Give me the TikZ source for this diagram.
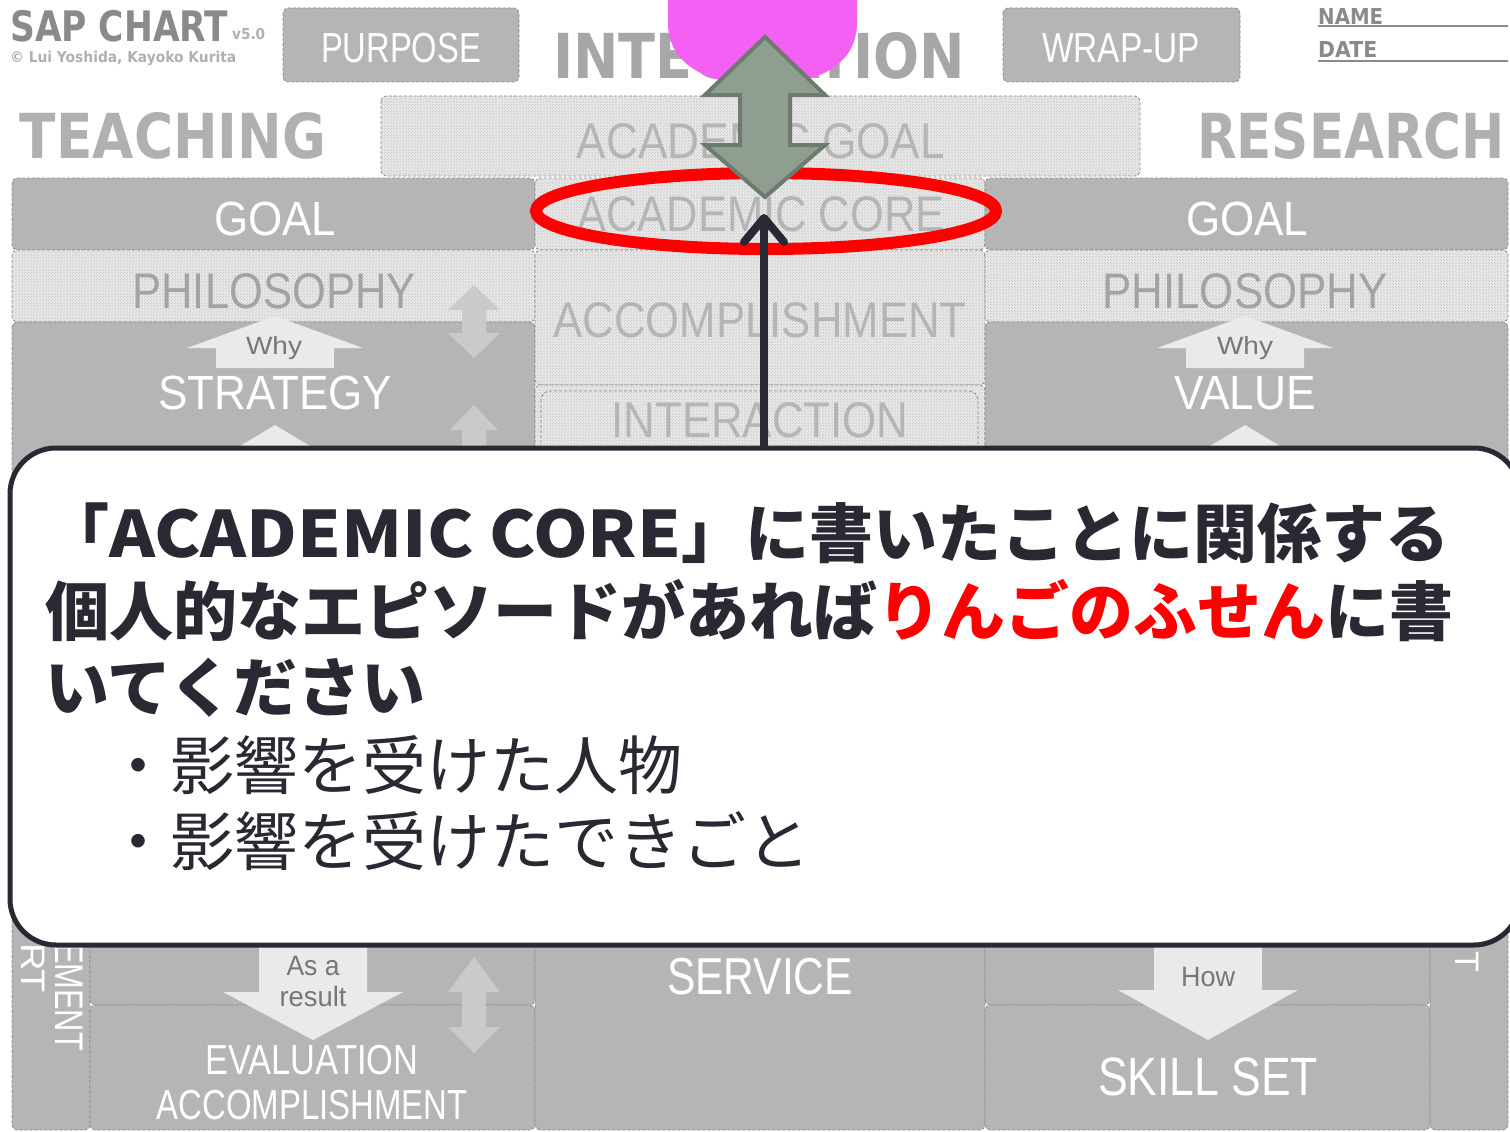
\documentclass[tikz,border=0pt]{standalone}
\usepackage{fontspec}
\setmainfont{Liberation Sans}
\newfontfamily\dvb{DejaVu Sans}
\newfontfamily\jp{Noto Sans CJK JP}
\usetikzlibrary{patterns,arrows.meta}
\definecolor{boxgray}{HTML}{B5B5B5}
\definecolor{dashc}{HTML}{8C8C8C}
\definecolor{hatchbg}{HTML}{E9E9E9}
\definecolor{hatchln}{HTML}{C6C6C6}
\definecolor{headgray}{HTML}{8A8A8A}
\definecolor{biggray}{HTML}{B0B0B0}
\definecolor{hatchtext}{HTML}{B5B5B5}
\definecolor{philtext}{HTML}{A3A3A3}
\definecolor{arrowlight}{HTML}{EAEAEA}
\definecolor{dblarrow}{HTML}{CACACA}
\definecolor{smalltext}{HTML}{777777}
\definecolor{ink}{HTML}{292933}
\definecolor{pinkblob}{HTML}{F45FF4}
\definecolor{arrgreen}{HTML}{8F9E90}
\definecolor{arrgreenb}{HTML}{6D7A6E}
\definecolor{redmark}{HTML}{FF0000}
\newcommand{\fw}[2]{\resizebox{#1}{\height}{#2}}
\newcommand{\fsz}[1]{\fontsize{#1}{#1}\selectfont}
\begin{document}
\begin{tikzpicture}[x=1pt,y=-1pt,
  panel/.style={draw=dashc, dash pattern=on 3pt off 2pt, line width=0.8pt, rounded corners=5pt, fill=boxgray},
  hatchpanel/.style={draw=dashc, dash pattern=on 3pt off 2pt, line width=0.8pt, rounded corners=5pt, preaction={fill=hatchbg}, pattern=north east lines, pattern color=hatchln},
  wlbl/.style={inner sep=0pt, text=white, font=\fsz{48}},
  hlbl/.style={inner sep=0pt, text=hatchtext, font=\fsz{50}},
  plbl/.style={inner sep=0pt, text=philtext, font=\fsz{50}},
  slbl/.style={inner sep=0pt, text=smalltext, font=\fsz{28}, anchor=base},
  bighead/.style={inner sep=0pt, text=biggray, font=\dvb\bfseries\fsz{62}},
  lightarrow/.style={fill=arrowlight},
  dblarr/.style={fill=dblarrow},
  jptext/.style={inner sep=0pt, anchor=base west, text=ink, font=\jp\fsz{64}}
]
\useasboundingbox (0,0) rectangle (1510,1132);
\fill[white] (0,0) rectangle (1510,1132);
\begin{scope}
\clip (0,0) rectangle (1510,1132);

% ---------- header ----------
\node[inner sep=0pt, anchor=base west, text=headgray, font=\dvb\bfseries\fsz{42}] (sap) at (10,42) {\fw{218pt}{SAP CHART}};
\node[inner sep=0pt, anchor=base west, text=biggray, font=\dvb\bfseries\fsz{15}] (ver) at (232,40) {\fw{33pt}{v5.0}};
\node[inner sep=0pt, anchor=base west, text=biggray, font=\dvb\bfseries\fsz{15}] (copy) at (10,63) {\fw{226pt}{© Lui Yoshida, Kayoko Kurita}};

\draw[panel] (283,8) rectangle (519,82);
\node[wlbl, font=\fsz{42}] (purpose) at (401,48) {\fw{160pt}{PURPOSE}};
\draw[panel] (1003,8) rectangle (1240,82);
\node[wlbl, font=\fsz{42}] (wrapup) at (1121,48) {\fw{158pt}{WRAP-UP}};

\node[bighead, text=headgray!75] (integ) at (759,56) {\fw{412pt}{INTEGRATION}};

\node[inner sep=0pt, anchor=base west, text=headgray, font=\dvb\bfseries\fsz{22}] (name) at (1318,24) {\fw{65pt}{NAME}};
\node[inner sep=0pt, anchor=base west, text=headgray, font=\dvb\bfseries\fsz{22}] (date) at (1318,57) {\fw{59pt}{DATE}};
\coordinate (nameend) at (1508,26);
\coordinate (dateend) at (1508,61);
\draw[headgray, line width=1.4pt] (name.base west |- nameend) -- (nameend);
\draw[headgray, line width=1.4pt] (date.base west |- dateend) -- (dateend);

\node[bighead] (teach) at (173,136) {\fw{306pt}{TEACHING}};
\node[bighead] (research) at (1351,136) {\fw{308pt}{RESEARCH}};

\draw[hatchpanel] (381,96) rectangle (1140,176);
\node[hlbl] (agoal) at (761,141) {\fw{368pt}{ACADEMIC GOAL}};

% ---------- left column ----------
\draw[panel] (12,178) rectangle (535,250);
\draw[hatchpanel] (12,250) rectangle (535,322);
\draw[panel] (12,322) rectangle (535,620);
\draw[panel] (12,800) rectangle (90,1130);
\draw[panel] (90,800) rectangle (535,1005);
\draw[panel] (90,1005) rectangle (535,1130);

% ---------- middle column ----------
\draw[hatchpanel] (535,178) rectangle (985,250);
\draw[hatchpanel] (535,250) rectangle (985,385);
\draw[hatchpanel] (535,385) rectangle (985,620);
\draw[draw=dashc, dash pattern=on 3pt off 2pt, line width=0.8pt, rounded corners=9pt] (541,391) rectangle (978,620);
\draw[panel] (535,800) rectangle (985,1130);

% ---------- right column ----------
\draw[panel] (985,178) rectangle (1508,250);
\draw[hatchpanel, pattern=north west lines] (985,250) rectangle (1508,322);
\draw[panel] (985,322) rectangle (1508,620);
\draw[panel] (985,800) rectangle (1430,1005);
\draw[panel] (985,1005) rectangle (1430,1130);
\draw[panel] (1430,800) rectangle (1508,1130);

% ---------- light arrows ----------
\fill[lightarrow] (275,316) -- (363,348) -- (334,348) -- (334,368) -- (216,368) -- (216,348) -- (187,348) -- cycle;
\fill[lightarrow] (1245,316) -- (1333,348) -- (1304,348) -- (1304,368) -- (1186,368) -- (1186,348) -- (1157,348) -- cycle;
\fill[lightarrow] (275,425) -- (320,452) -- (230,452) -- cycle;
\fill[lightarrow] (1245,425) -- (1290,452) -- (1200,452) -- cycle;
\fill[dblarr] (474,285) -- (500,310) -- (486,310) -- (486,333) -- (500,333) -- (474,358) -- (448,333) -- (462,333) -- (462,310) -- (448,310) -- cycle;
\fill[dblarr] (474,405) -- (498,430) -- (486,430) -- (486,470) -- (462,470) -- (462,430) -- (450,430) -- cycle;
\fill[dblarr] (474,957) -- (500,992) -- (486,992) -- (486,1027) -- (500,1027) -- (474,1053) -- (448,1027) -- (462,1027) -- (462,992) -- (448,992) -- cycle;
\fill[lightarrow] (259,930) -- (367,930) -- (367,992) -- (403,992) -- (313,1040) -- (223,992) -- (259,992) -- cycle;
\fill[lightarrow] (1154,930) -- (1262,930) -- (1262,990) -- (1298,990) -- (1208,1040) -- (1118,990) -- (1154,990) -- cycle;

% ---------- panel labels ----------
\node[wlbl] (goalL) at (275,219) {\fw{122pt}{GOAL}};
\node[plbl] (philL) at (274,291) {\fw{283pt}{PHILOSOPHY}};
\node[slbl, font=\fsz{25}] (whyL) at (274,354) {\fw{56pt}{Why}};
\node[wlbl] (strat) at (275,393) {\fw{234pt}{STRATEGY}};

\node[hlbl] (acore) at (761,214) {\fw{367pt}{ACADEMIC CORE}};
\node[hlbl] (accmid) at (760,320) {\fw{413pt}{ACCOMPLISHMENT}};
\node[hlbl] (inter) at (760,420) {\fw{297pt}{INTERACTION}};

\node[wlbl] (goalR) at (1247,219) {\fw{122pt}{GOAL}};
\node[plbl] (philR) at (1245,291) {\fw{285pt}{PHILOSOPHY}};
\node[slbl, font=\fsz{25}] (whyR) at (1245,354) {\fw{56pt}{Why}};
\node[wlbl] (value) at (1245,393) {\fw{142pt}{VALUE}};

\node[slbl] (asa) at (313,975) {\fw{53pt}{As a}};
\node[slbl] (result) at (313,1006) {\fw{67pt}{result}};
\node[wlbl, font=\fsz{42}] (evalu) at (312,1060) {\fw{213pt}{EVALUATION}};
\node[wlbl, font=\fsz{42}] (accbot) at (312,1105) {\fw{311pt}{ACCOMPLISHMENT}};
\node[wlbl, font=\fsz{52}] (service) at (760,977) {\fw{186pt}{SERVICE}};
\node[slbl] (how) at (1208,986) {\fw{54pt}{How}};
\node[wlbl, font=\fsz{54}] (skill) at (1208,1077) {\fw{220pt}{SKILL SET}};
\node[wlbl, font=\fsz{40}, rotate=-90] (ement) at (69,997) {\fw{108pt}{EMENT}};
\node[wlbl, font=\fsz{34}, rotate=-90] (rt) at (33,968) {\fw{50pt}{RT}};
\node[wlbl, font=\fsz{34}, rotate=-90] (tR) at (1467,962) {T};

% ---------- red ellipse ----------
\draw[redmark, line width=12pt] (766,211) ellipse [x radius=230, y radius=38];

% ---------- callout ----------
\node[draw=ink, line width=5pt, fill=white, rounded corners=46pt, minimum width=1510pt, minimum height=497pt, inner sep=0pt] (callout) at (765,696.5) {};

\node[jptext, font=\jp\bfseries\fsz{64}] (l1) at (45,557) {「\fw{572pt}{ACADEMIC CORE}」に書いたことに関係する};
\node[jptext, font=\jp\bfseries\fsz{64}] (l2) at (45,635) {個人的なエピソードがあれば\textcolor{redmark}{りんごのふせん}に書};
\node[jptext, font=\jp\bfseries\fsz{64}] (l3) at (45,711) {いてください};
\node[jptext] (b1) at (106,789) {・影響を受けた人物};
\node[jptext] (b2) at (106,865) {・影響を受けたできごと};

% ---------- black arrow ----------
\coordinate (tip) at (764,214);
\draw[ink, line width=8pt, -{Straight Barb[round, length=24pt, width=40pt]}] (callout.north -| tip) -- (tip);

% ---------- pink note and grey double arrow ----------
\fill[pinkblob] (668,-5) -- (668,25) .. controls (670,72) and (720,85) .. (762,85) .. controls (805,85) and (855,72) .. (857,25) -- (857,-5) -- cycle;
\filldraw[fill=arrgreen, draw=arrgreenb, line width=4pt, line join=miter] (765,37) -- (825,95) -- (790,95) -- (790,145) -- (825,145) -- (765,197) -- (705,145) -- (740,145) -- (740,95) -- (705,95) -- cycle;

\end{scope}
\end{tikzpicture}
\end{document}
